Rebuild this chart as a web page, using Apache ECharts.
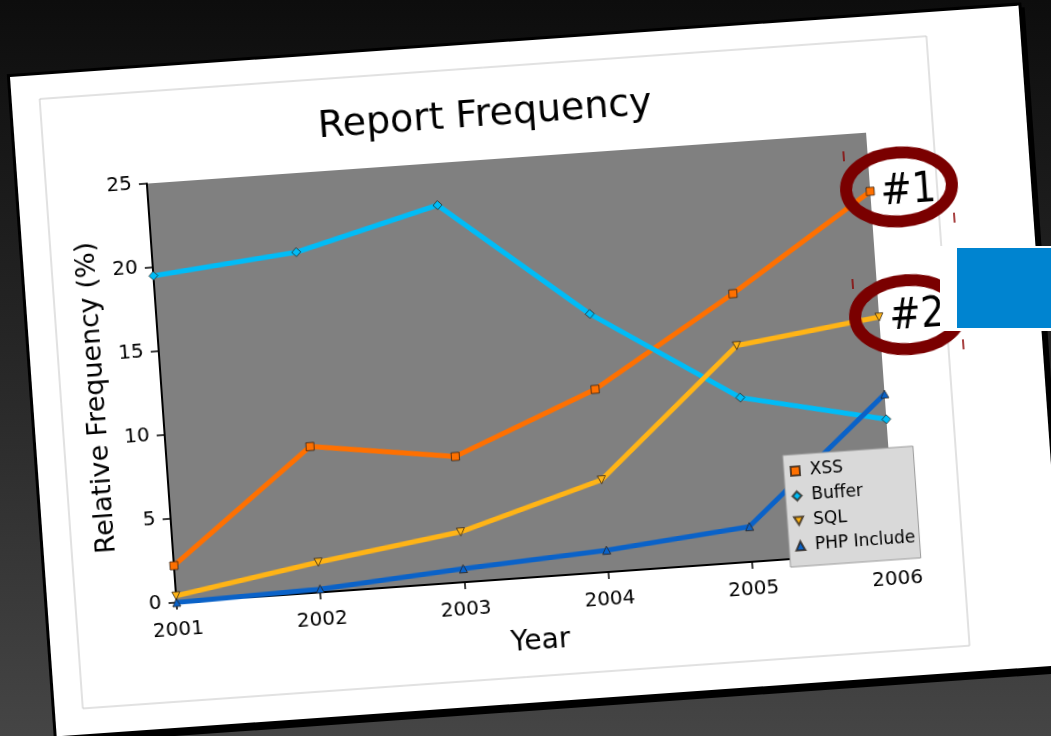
<!DOCTYPE html>
<html>
<head>
<meta charset="utf-8">
<script src="https://cdn.jsdelivr.net/npm/echarts@6/dist/echarts.min.js"></script>
<style>
  html, body { margin: 0; padding: 0; }
  body {
    width: 1051px; height: 736px; overflow: hidden; position: relative;
    background: linear-gradient(180deg, #0d0d0d 0%, #2a2a2a 55%, #454545 100%);
  }
  #card {
    position: absolute; left: 10px; top: 77px;
    width: 1011px; height: 661px; background: #fff;
    transform-origin: 0 0; transform: rotate(-4.05deg);
    box-shadow: 0 0 0 3px #000, 3px 5px 0 3px #000;
  }
  #chart { position: absolute; left: 0; top: 0; width: 1011px; height: 661px; }
  #tab { position: absolute; left: 940px; top: 246px; width: 111px; height: 85px; background: #fff; }
  #tabBlue { position: absolute; left: 957px; top: 248px; width: 94px; height: 80px; background: #0084d0; }
</style>
</head>
<body>
<div id="card"><div id="chart"></div></div>
<div id="tab"></div>
<div id="tabBlue"></div>
<script>
// Relative frequency of reported vulnerability types per year (%)
const years = ['2001', '2002', '2003', '2004', '2005', '2006'];
const xss = [2.2, 8.7, 7.5, 10.9, 16.0, 21.5];
const buffer = [19.5, 20.3, 22.5, 15.4, 9.8, 7.9];
const sql = [0.4, 1.8, 3.0, 5.5, 12.9, 14.0];
const phpInclude = [0.0, 0.2, 0.8, 1.3, 2.1, 9.4];
const seriesNames = ['XSS', 'Buffer', 'SQL', 'PHP Include'];
const rankLabels = ['#1', '#2'];

const FONT = 'DejaVu Sans, Verdana, sans-serif';
const TRI_DOWN = 'path://M0,0L10,0L5,9Z';
const colors = ['#ff7000', '#00bcf7', '#ffb416', '#0a62c8'];
const symbols = ['rect', 'diamond', TRI_DOWN, 'triangle'];
const values = [xss, buffer, sql, phpInclude];

const chart = echarts.init(document.getElementById('chart'), null, { renderer: 'canvas' });

const series = values.map((data, i) => ({
  name: seriesNames[i],
  type: 'line',
  data: data,
  symbol: symbols[i],
  symbolSize: i === 1 ? 9 : 8,
  showSymbol: true,
  lineStyle: { width: 5, color: colors[i] },
  itemStyle: { color: colors[i], borderColor: 'rgba(40,30,20,0.75)', borderWidth: 1 },
  emphasis: { disabled: true },
  animation: false
}));

// callout rings around the two leading categories
const ring = (cx, cy) => ({
  type: 'ellipse', z: 100,
  shape: { cx: cx, cy: cy, rx: 53, ry: 34.5 },
  style: { fill: 'none', stroke: '#7a0000', lineWidth: 12 }
});
const handle = (x, y) => ({
  type: 'line', z: 100,
  shape: { x1: x, y1: y - 5, x2: x, y2: y + 5 },
  style: { stroke: '#8a0000', lineWidth: 1.5 }
});
const rankText = (txt, x, y) => ({
  type: 'text', z: 101,
  style: {
    text: txt, x: x, y: y, fill: '#000',
    font: '42px "Liberation Sans Narrow", "DejaVu Sans Condensed", "Liberation Sans", sans-serif',
    align: 'center', verticalAlign: 'middle'
  }
});

chart.setOption({
  animation: false,
  backgroundColor: 'transparent',
  title: {
    text: 'Report Frequency',
    left: 471, top: 53, textAlign: 'center', padding: 0,
    textStyle: { fontFamily: FONT, fontSize: 38, fontWeight: 'normal', color: '#000' }
  },
  grid: {
    left: 129, top: 116, width: 721, height: 420,
    show: true, backgroundColor: '#808080', borderWidth: 0
  },
  legend: {
    orient: 'vertical', left: 744, top: 432,
    padding: [8, 4, 12, 6],
    backgroundColor: '#d9d9d9', borderColor: '#9a9a9a', borderWidth: 1,
    itemWidth: 9, itemHeight: 9, itemGap: 8,
    textStyle: { fontFamily: FONT, fontSize: 17, color: '#000', padding: [0, 0, 0, 5] },
    data: seriesNames.map((n, i) => ({ name: n, icon: symbols[i] }))
  },
  xAxis: {
    type: 'category', data: years, boundaryGap: false,
    name: 'Year', nameLocation: 'middle', nameGap: 51,
    nameTextStyle: { fontFamily: FONT, fontSize: 28, color: '#000' },
    axisLine: { show: true, lineStyle: { color: '#000', width: 2 } },
    axisTick: { show: true, inside: false, length: 7, lineStyle: { color: '#000', width: 1.5 } },
    axisLabel: { fontFamily: FONT, fontSize: 20, color: '#000', margin: 18 },
    splitLine: { show: false }
  },
  yAxis: {
    type: 'value', min: 0, max: 25, interval: 5,
    name: 'Relative Frequency (%)', nameLocation: 'middle', nameGap: 42, nameRotate: 90,
    nameTextStyle: { fontFamily: FONT, fontSize: 27, color: '#000' },
    axisLine: { show: true, lineStyle: { color: '#000', width: 2 } },
    axisTick: { show: true, inside: false, length: 8, lineStyle: { color: '#000', width: 1.5 } },
    axisLabel: { fontFamily: FONT, fontSize: 20, color: '#000', margin: 15 },
    splitLine: { show: false }
  },
  series: series,
  graphic: [
    {
      type: 'rect', z: 0,
      shape: { x: 28, y: 24, width: 889, height: 611 },
      style: { fill: 'none', stroke: '#c4c4c4', lineWidth: 1 }
    },
    ring(879, 172.5),
    ring(879, 300.5),
    handle(826, 138), handle(932, 207),
    handle(826, 266), handle(932, 334),
    rankText(rankLabels[0], 888, 178),
    rankText(rankLabels[1], 888, 303)
  ]
});
</script>
</body>
</html>
